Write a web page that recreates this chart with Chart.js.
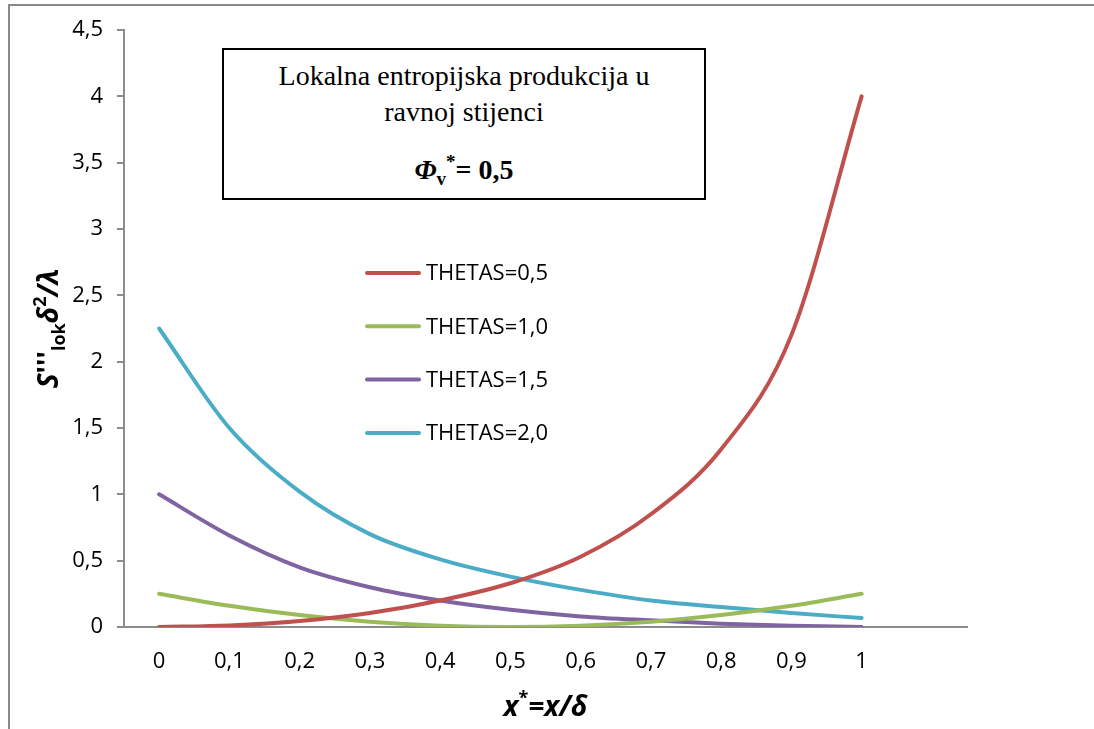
<!DOCTYPE html>
<html lang="hr">
<head>
    <meta charset="UTF-8">
    <title>Lokalna entropijska produkcija</title>
    <script src="https://cdn.jsdelivr.net/npm/chart.js"></script>
    <style>
        html, body { margin: 0; padding: 0; background: #fff; }
        #wrap { position: relative; width: 1094px; height: 729px; overflow: hidden; }
        #frame {
            position: absolute; left: 8px; top: 4px; right: -10px; bottom: -10px;
            border-top: 2px solid #898989; border-left: 2px solid #898989;
        }
        #note {
            position: absolute; left: 222px; top: 48px; width: 480px; height: 148px;
            border: 2px solid #000; background: #fff;
            font-family: "Liberation Serif", "Times New Roman", serif; font-size: 28px;
            text-align: center; color: #000; line-height: 36px;
        }
        #note .l1 { margin-top: 8px; }
        #note .phi { margin-top: 22px; font-weight: bold; font-size: 28px; }
        #note sub { font-size: 19px; vertical-align: -6px; line-height: 0; }
        #note sup { font-size: 19px; vertical-align: 11px; line-height: 0; }
        canvas { position: absolute; left: 0; top: 0; }
    </style>
</head>
<body>
<div id="wrap">
    <div id="frame"></div>
    <canvas id="myChart" width="1094" height="729"></canvas>
    <div id="note">
        <div class="l1">Lokalna entropijska produkcija u</div>
        <div>ravnoj stijenci</div>
        <div class="phi"><i>&Phi;</i><sub>v</sub><sup>*</sup>= 0,5</div>
    </div>
</div>
<script>
    // x* = x/delta
    const xValues = [0, 0.1, 0.2, 0.3, 0.4, 0.5, 0.6, 0.7, 0.8, 0.9, 1];
    const xTicks = [0, 0.1, 0.2, 0.3, 0.4, 0.5, 0.6, 0.7, 0.8, 0.9, 1];
    const yTicks = [0, 0.5, 1, 1.5, 2, 2.5, 3, 3.5, 4, 4.5];

    const seriesNames = ['THETAS=0,5', 'THETAS=1,0', 'THETAS=1,5', 'THETAS=2,0'];
    const seriesColors = ['#C0504D', '#9BBB59', '#8064A2', '#4BACC6'];

    const theta05 = [0, 0.012, 0.045, 0.105, 0.2, 0.33, 0.53, 0.85, 1.34, 2.2, 4.0];
    const theta10 = [0.25, 0.16, 0.09, 0.04, 0.01, 0, 0.01, 0.04, 0.09, 0.16, 0.25];
    const theta15 = [1.0, 0.69, 0.45, 0.3, 0.2, 0.13, 0.08, 0.05, 0.025, 0.01, 0.0];
    const theta20 = [2.25, 1.5, 1.02, 0.7, 0.51, 0.38, 0.28, 0.2, 0.15, 0.105, 0.068];

    const seriesValues = [theta05, theta10, theta15, theta20];

    const comma = v => String(Math.round(v * 10) / 10).replace('.', ',');

    // draws a run of text pieces (for sub/superscripts)
    function drawRuns(ctx, runs, cx, cy) {
        let total = 0;
        runs.forEach(r => { ctx.font = r.font; r.w = ctx.measureText(r.t).width; total += r.w; });
        let x = cx - total / 2;
        ctx.textBaseline = 'alphabetic';
        ctx.textAlign = 'left';
        runs.forEach(r => {
            ctx.font = r.font;
            ctx.fillText(r.t, x, cy + (r.dy || 0));
            x += r.w;
        });
    }

    const extras = {
        id: 'extras',
        afterDraw(chart) {
            const ctx = chart.ctx;
            const area = chart.chartArea;
            ctx.save();
            ctx.fillStyle = '#000';

            // x axis title
            const bi = 'italic bold 28px "Open Sans"';
            const small = 'bold 18px "Open Sans"';
            drawRuns(ctx, [
                { t: 'x', font: bi },
                { t: '*', font: small, dy: -12 },
                { t: '=x/\u03B4', font: bi }
            ], (area.left + area.right) / 2, 716);

            // y axis title
            ctx.translate(58, (area.top + area.bottom) / 2);
            ctx.rotate(-Math.PI / 2);
            drawRuns(ctx, [
                { t: 'S', font: bi },
                { t: '\'\'\'', font: 'bold 28px "Open Sans"' },
                { t: 'lok', font: small, dy: 7 },
                { t: '\u03B4', font: bi },
                { t: '2', font: small, dy: -12 },
                { t: '/\u03BB', font: bi }
            ], 0, 0);
            ctx.restore();

            // legend
            ctx.save();
            ctx.font = '22px "Open Sans"';
            ctx.textBaseline = 'middle';
            chart.data.datasets.forEach((ds, i) => {
                const y = 273 + i * 53.3;
                ctx.strokeStyle = ds.borderColor;
                ctx.lineWidth = 4;
                ctx.lineCap = 'round';
                ctx.beginPath();
                ctx.moveTo(367, y);
                ctx.lineTo(419, y);
                ctx.stroke();
                ctx.fillStyle = '#000';
                ctx.fillText(ds.label, 426, y + 1);
            });
            ctx.restore();
        }
    };

    const ctx = document.getElementById('myChart').getContext('2d');
    new Chart(ctx, {
        type: 'line',
        data: {
            datasets: seriesNames.map((name, i) => ({
                label: name,
                data: xValues.map((x, j) => ({ x: x, y: seriesValues[i][j] })),
                borderColor: seriesColors[i],
                borderWidth: 4,
                pointRadius: 0,
                cubicInterpolationMode: 'monotone',
                borderCapStyle: 'round',
                fill: false
            }))
        },
        options: {
            responsive: false,
            animation: false,
            events: [],
            layout: { padding: { top: 30, right: 127, left: 0, bottom: 0 } },
            plugins: { legend: { display: false }, tooltip: { enabled: false } },
            scales: {
                x: {
                    type: 'linear',
                    min: -0.05,
                    max: 1.15,
                    afterBuildTicks: s => { s.ticks = xTicks.map(v => ({ value: v })); },
                    afterFit: s => { s.height = 102; },
                    grid: { display: true, drawOnChartArea: false, drawTicks: false },
                    border: { display: true, color: '#8c8c8c', width: 2 },
                    ticks: {
                        padding: 22,
                        maxRotation: 0,
                        autoSkip: false,
                        color: '#000',
                        font: { family: 'Open Sans', size: 22 },
                        callback: v => comma(v)
                    }
                },
                y: {
                    min: 0,
                    max: 4.5,
                    afterBuildTicks: s => { s.ticks = yTicks.map(v => ({ value: v })); },
                    afterFit: s => { s.width = 124; },
                    grid: { display: true, drawOnChartArea: false, drawTicks: true, tickLength: 7, color: '#8c8c8c', lineWidth: 2 },
                    border: { display: true, color: '#8c8c8c', width: 2 },
                    ticks: {
                        padding: 14,
                        color: '#000',
                        font: { family: 'Open Sans', size: 22 },
                        callback: v => comma(v)
                    }
                }
            }
        },
        plugins: [extras]
    });
</script>
</body>
</html>
